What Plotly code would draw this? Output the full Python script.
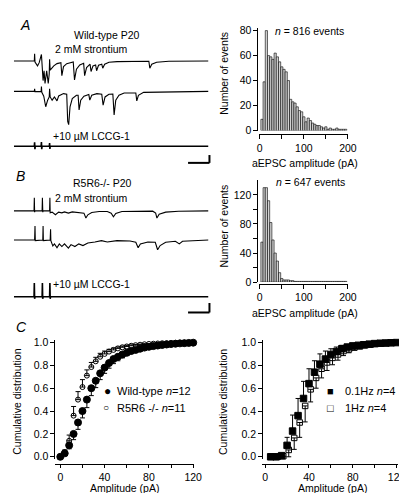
import plotly.graph_objects as go

W, H = 407, 493
FONT = "Liberation Sans, Arial, Helvetica, sans-serif"
FS = 10.5

# ---------------- data ----------------
# Panel A/B traces (time units along the sweep, current deflection units; negative = inward)
A1_t = [0, 21, 21.3, 21.7, 24.3, 26, 28.3, 28.7, 30, 31, 32, 33.7, 35.3, 36.3, 36.7, 37.3, 41, 44.3, 48.3, 49.3,
        51, 54.3, 61, 62.3, 64.3, 67.7, 71.7, 72.7, 74.7, 78.3, 79.3, 81.3, 84, 85, 87, 90.3, 91.3, 93.3, 97.7, 106,
        138.7, 139.7, 141.7, 146.7, 159.3, 200]
A1_i = [0, 0, 7.3, -1, -5, -1.7, 6.7, -3.3, -20, -10, -23, -10, -23, -13.3, 1.7, -9.3, -5, -2.7, -1.7, -15,
        -5.7, -2.7, -1, -19.3, -8.3, -4, -2.3, -15, -6.7, -3.3, -10.7, -5, -4, -10, -4.3, -3.3, -7.3, -3.3, -1.3, -0.7,
        -0.3, -7.3, -3.3, -1.3, -0.3, 0]
A2_t = [0, 21, 21.3, 21.7, 28, 28.3, 28.7, 30.7, 32.7, 34.7, 36.3, 36.7, 37.3, 39.3, 41.7, 44.3, 46, 51, 54.3, 55.3,
        56.3, 57.7, 60, 64.3, 66, 67, 68.7, 72, 77, 78, 80, 85.3, 90.3, 91.7, 93.7, 97.7, 101.7, 103, 104.7, 108,
        113.3, 125.3, 126.3, 128, 133.3, 200]
A2_i = [0, 0, 2.7, -0.3, 0, 5, -1, -5, -15.7, -9, -5.7, 2.7, -5.7, -9, -5.7, -9.7, -4.7, -2.3, -3, -30.7,
        -34, -15.7, -7.3, -4, -4, -19, -9, -5, -3.3, -9, -4, -2.3, -3, -14, -5.7, -3, -2.7, -24, -9, -4,
        -1.7, -1.7, -9.7, -4, -1, 0]
A3_t = [0, 21, 21.3, 21.6, 22, 28, 28.3, 28.6, 29, 36.4, 36.7, 37, 37.3, 200]
A3_i = [0, 0, 4, -3, 0, 0, 4.3, -3, 0, 0, 3.3, -2.7, 0, 0]

B1_t = [0, 20.7, 21, 21.3, 21.7, 29, 29.3, 29.7, 30, 36.7, 37, 37.3, 39.3, 42.7, 46, 49.3, 52, 56, 60, 67.7,
        72, 74, 76, 80, 87.7, 96, 100, 102.3, 104.7, 111, 142.7, 145.7, 147, 149.3, 156, 169.3, 200]
B1_i = [0, 0, 13.3, -1.3, 0, 0, 13.3, -1.3, 0, 0, 13.3, -2, -1.3, -4, -1.3, -2, -1, -2.3, -1, -2,
        -2.3, -7.3, -4, -1.7, -0.7, -0.7, -2.3, -6, -2.7, -0.7, -0.3, -2.3, -7.3, -3.3, -1.3, -0.3, 0]
B2_t = [0, 21.3, 21.7, 22, 29.7, 30, 30.3, 37.3, 37.7, 38, 40, 41.7, 44.3, 46.7, 49.3, 52, 56, 58.7, 62.7, 66.7,
        71, 76, 83.3, 90, 96, 106, 119.3, 125.3, 127.7, 130, 137.7, 145.3, 147.7, 150.3, 156, 166, 170, 173.3, 200]
B2_i = [0, 0, 14.3, -0.7, 0, 14.3, -0.7, 0, 11, -0.7, -6, -4, -8, -4, -6.7, -4, -8.3, -4.7, -6.7, -4,
        -5.7, -3, -2, -0.7, -2, -0.7, -1, -2.3, -8, -4, -2, -2.3, -10, -5.7, -2.3, -1.3, -4, -1.3, 0]
B3_t = [0, 20.7, 21, 21.3, 21.7, 29, 29.3, 29.6, 30, 36.7, 37, 37.3, 37.7, 200]
B3_i = [0, 0, 14, -2, 0, 0, 14, -2, 0, 0, 14, -2, 0, 0]

# Histograms (bin centres in pA, 5 pA bins)
bin_centers = [5, 10, 15, 20, 25, 30, 35, 40, 45, 50, 55, 60, 65, 70, 75, 80, 85, 90, 95, 100,
               105, 110, 115, 120, 125, 130, 135, 140, 145, 150, 155, 160, 165, 170, 175, 180, 185, 190, 195]
histA_counts = [9, 39, 80, 60, 59, 57, 62, 59, 55, 51, 49, 47, 40, 25, 23, 22, 19, 16, 15, 11,
                7, 10, 8, 6, 5, 4, 4, 3, 2, 3, 1, 2, 1, 1, 2, 1, 1, 1, 1]
histB_counts = [55, 130, 130, 112, 82, 58, 40, 29, 13, 5, 3, 3, 3, 2, 2, 1, 1, 1, 1, 1,
                1, 1, 1, 1, 1, 1, 1, 1, 1, 1, 1, 1, 1, 1, 1, 1, 1, 1, 1]

# Panel C left: cumulative distributions
wt_x = [0, 4, 8, 12, 16, 20, 24, 28, 32, 36, 40, 44, 48, 52, 56, 60, 64, 68, 72, 76, 80, 84, 88, 92, 96, 100,
        104, 108, 112, 116, 120]
wt_y = [0.0, 0.03, 0.10, 0.20, 0.30, 0.40, 0.50, 0.60, 0.665, 0.73, 0.78, 0.82, 0.855, 0.875, 0.895, 0.91,
        0.925, 0.935, 0.945, 0.955, 0.962, 0.968, 0.973, 0.978, 0.982, 0.986, 0.989, 0.992, 0.994, 0.996, 0.998]
wt_err = [0.0, 0.02, 0.03, 0.05, 0.06, 0.06, 0.07, 0.065, 0.06, 0.055, 0.05, 0.045, 0.04, 0.035, 0.03, 0.025,
          0.02, 0.02, 0.015, 0.015, 0.012, 0.01, 0.01, 0.008, 0.008, 0.006, 0.005, 0.005, 0.004, 0.003, 0.002]
ko_x = [0, 4, 8, 12, 16, 20, 24, 28, 32, 36, 40, 44, 48, 52, 56, 60, 64, 68, 72, 76, 80, 84, 88, 92, 96, 100,
        104, 108, 112]
ko_y = [0.0, 0.04, 0.14, 0.36, 0.50, 0.61, 0.71, 0.785, 0.835, 0.875, 0.90, 0.92, 0.935, 0.948, 0.958, 0.965,
        0.971, 0.976, 0.98, 0.984, 0.987, 0.989, 0.991, 0.993, 0.994, 0.995, 0.996, 0.997, 0.998]
ko_err = [0.0, 0.02, 0.05, 0.08, 0.07, 0.065, 0.05, 0.04, 0.035, 0.03, 0.025, 0.02, 0.015, 0.012, 0.01, 0.01,
          0.008, 0.007, 0.006, 0.005, 0.004, 0.004, 0.003, 0.003, 0.002, 0.002, 0.002, 0.001, 0.001]

# Panel C right: stimulation frequency
f01_x = [5, 10, 15, 20, 25, 30, 35, 40, 45, 50, 55, 60, 65, 70, 75, 80, 85, 90, 95, 100, 105, 110, 115, 120]
f01_y = [0.0, 0.0, 0.01, 0.10, 0.225, 0.36, 0.51, 0.64, 0.74, 0.81, 0.855, 0.895, 0.92, 0.945, 0.96, 0.97,
         0.975, 0.98, 0.985, 0.99, 0.993, 0.995, 0.997, 0.999]
f01_err = [0.0, 0.0, 0.005, 0.07, 0.14, 0.15, 0.15, 0.13, 0.10, 0.09, 0.07, 0.05, 0.04, 0.03, 0.02, 0.015,
           0.01, 0.008, 0.006, 0.005, 0.004, 0.003, 0.002, 0.001]
f1_x = [6.5, 11.5, 16.5, 21.5, 26.5, 31.5, 36.5, 41.5, 46.5, 51.5, 56.5, 61.5, 66.5, 71.5, 76.5, 81.5, 86.5,
        91.5, 96.5, 101.5, 106.5, 111.5, 116.5, 121.5]
f1_y = [0.0, 0.0, 0.005, 0.06, 0.165, 0.30, 0.445, 0.59, 0.69, 0.77, 0.825, 0.865, 0.895, 0.925, 0.94, 0.955,
        0.965, 0.975, 0.982, 0.988, 0.992, 0.995, 0.997, 0.999]
f1_err = [0.0, 0.0, 0.005, 0.06, 0.10, 0.13, 0.14, 0.11, 0.09, 0.08, 0.07, 0.06, 0.05, 0.04, 0.03, 0.02,
          0.015, 0.01, 0.008, 0.006, 0.005, 0.004, 0.003, 0.002]


# ---------------- helpers ----------------
def dom_x(p0, p1):
    return [p0 / W, p1 / W]


def dom_y(p_top, p_bot):
    return [1 - p_bot / H, 1 - p_top / H]


def ann(text, x, y, size=FS, xanchor="left", angle=0):
    return dict(text=text, x=x / W, y=1 - y / H, xref="paper", yref="paper", showarrow=False,
                xanchor=xanchor, yanchor="middle", textangle=angle, borderpad=0,
                font=dict(size=size, family=FONT, color="black"))


def line_shape(x0, y0, x1, y1, w=2):
    return dict(type="line", xref="paper", yref="paper", x0=x0 / W, y0=1 - y0 / H, x1=x1 / W, y1=1 - y1 / H,
                line=dict(color="black", width=w))


axis_common = dict(showgrid=False, zeroline=False, showline=True, linecolor="black", linewidth=1,
                   ticks="outside", ticklen=4, tickwidth=1, tickcolor="black",
                   tickfont=dict(size=FS, family=FONT, color="black"))

fig = go.Figure()

# ---------------- traces (A and B) ----------------
trace_sets = [(A1_t, A1_i, 50, 1.1), (A2_t, A2_i, 81, 1.1), (A3_t, A3_i, 137, 1.6),
              (B1_t, B1_i, 203, 1.1), (B2_t, B2_i, 232.7, 1.1), (B3_t, B3_i, 290.7, 1.6)]
for k, (tt, ii, base, lw) in enumerate(trace_sets):
    yname = "y%d" % (5 + k)
    fig.add_trace(go.Scatter(x=tt, y=ii, mode="lines", line=dict(color="black", width=lw),
                             xaxis="x5", yaxis=yname, hoverinfo="skip"))
    fig.layout["yaxis%d" % (5 + k)] = dict(domain=dom_y(base - 16, base + 40), range=[-40, 16], visible=False,
                                           anchor="x5", fixedrange=True)
fig.layout["xaxis5"] = dict(domain=dom_x(4, 204), range=[0, 200], visible=False, anchor="y5")

# ---------------- histograms ----------------
bar_style = dict(color="#d2d2d2", line=dict(color="black", width=0.6))
fig.add_trace(go.Bar(x=bin_centers, y=histA_counts, width=5, marker=bar_style, xaxis="x", yaxis="y"))
fig.add_trace(go.Bar(x=bin_centers, y=histB_counts, width=5, marker=bar_style, xaxis="x2", yaxis="y2"))

hx0 = 256.7
hk = (347.3 - 256.7) / 200.0
hist_xaxis = dict(axis_common, range=[-2.5, 200], domain=dom_x(hx0 - 2.5 * hk, hx0 + 200 * hk), anchor="free",
                  tickvals=[0, 50, 100, 150, 200], ticktext=["0", "", "100", "", "200"])
fig.layout.xaxis = dict(hist_xaxis, position=1 - 125 / H)
fig.layout.xaxis2 = dict(hist_xaxis, position=1 - 277.3 / H)
kA = (121 - 19) / 80.0
fig.layout.yaxis = dict(axis_common, range=[0, 82], domain=dom_y(121 - 82 * kA, 121), anchor="free",
                        position=254.3 / W, tickvals=[0, 20, 40, 60, 80])
kB = (275.7 - 186.7) / 120.0
fig.layout.yaxis2 = dict(axis_common, range=[0, 140], domain=dom_y(275.7 - 140 * kB, 275.7), anchor="free",
                         position=254.3 / W, tickvals=[0, 20, 40, 60, 80, 100, 120],
                         ticktext=["0", "", "40", "", "80", "", "120"])

# ---------------- cumulative plots ----------------
def err_plot(x, y, err, up, symbol, size, xa, ya, fill):
    e = dict(type="data", symmetric=False, color="black", thickness=1, width=2.5, visible=True)
    if up:
        e.update(array=err, arrayminus=[0] * len(err))
    else:
        e.update(array=[0] * len(err), arrayminus=err)
    return go.Scatter(x=x, y=y, mode="markers", error_y=e, xaxis=xa, yaxis=ya, cliponaxis=False,
                      marker=dict(symbol=symbol, size=size, color=fill, line=dict(color="black", width=1)))

fig.add_trace(err_plot(ko_x, ko_y, ko_err, True, "circle-open", 5, "x3", "y3", "black"))
fig.add_trace(err_plot(wt_x, wt_y, wt_err, False, "circle", 7, "x3", "y3", "black"))
fig.add_trace(err_plot(f1_x, f1_y, f1_err, False, "square-open", 5.5, "x4", "y4", "black"))
fig.add_trace(err_plot(f01_x, f01_y, f01_err, True, "square", 6.5, "x4", "y4", "black"))

ky = 454 - 337.3
c_y = dict(axis_common, range=[-0.015, 1.02], domain=dom_y(454 - 1.02 * ky, 454 + 0.015 * ky), anchor="free",
           tickvals=[0, 0.2, 0.4, 0.6, 0.8, 1.0], ticktext=["0.0", "0.2", "0.4", "0.6", "0.8", "1.0"])
c_x = dict(axis_common, anchor="free", position=1 - 461.7 / H, ticklen=3,
           tickvals=[0, 20, 40, 60, 80, 100, 120], ticktext=["0", "", "40", "", "80", "", "120"])
kl = (188.3 - 51.7) / 120.0
fig.layout.xaxis3 = dict(c_x, range=[-4.5, 121], domain=dom_x(51.7 - 4.5 * kl, 51.7 + 121 * kl))
fig.layout.yaxis3 = dict(c_y, position=45.7 / W)
xr0, xr120 = 262.3, 397.3
kr = (xr120 - xr0) / 120.0
fig.layout.xaxis4 = dict(c_x, range=[-3, 121], domain=dom_x(xr0 - 3 * kr, xr0 + 121 * kr))
fig.layout.yaxis4 = dict(c_y, position=259.2 / W)

# ---------------- text ----------------
anns = [
    ann("<i>A</i>", 9, 13, size=14),
    ann("<i>B</i>", 5, 167, size=14),
    ann("<i>C</i>", 5, 322, size=14),
    ann("Wild-type P20", 100, 23, xanchor="center"),
    ann("2 mM strontium", 45, 38),
    ann("+10 µM LCCG-1", 43, 127),
    ann("R5R6-/- P20", 95, 175, xanchor="center"),
    ann("2 mM strontium", 45, 190),
    ann("+10 µM LCCG-1", 43, 278),
    ann("<i>n</i> = 816 events", 271, 19),
    ann("<i>n</i> = 647 events", 272, 174),
    ann("Number of events", 220, 63, xanchor="center", angle=-90),
    ann("Number of events", 220, 219, xanchor="center", angle=-90),
    ann("aEPSC amplitude (pA)", 303.5, 154, xanchor="center"),
    ann("aEPSC amplitude (pA)", 303.5, 307.5, xanchor="center"),
    ann("Cumulative distribution", 7, 398, xanchor="center", angle=-90),
    ann("Cumulative distribution", 219, 398, xanchor="center", angle=-90),
    ann("Amplitude (pA)", 118, 486, xanchor="center"),
    ann("Amplitude (pA)", 331, 486, xanchor="center"),
    ann("●", 100, 387, size=12, xanchor="center"),
    ann("Wild-type <i>n</i>=12", 109, 387, size=11),
    ann("○", 99, 404, size=10, xanchor="center"),
    ann("R5R6 -/- <i>n</i>=11", 109, 404, size=11),
    ann("■", 329, 387, size=11, xanchor="center"),
    ann("0.1Hz <i>n</i>=4", 343, 387, size=11),
    ann("□", 329, 404, size=11, xanchor="center"),
    ann("1Hz <i>n</i>=4", 343, 404, size=11),
]

shapes = [
    line_shape(183, 154, 205, 154), line_shape(205, 154, 205, 146),
    line_shape(183, 306.7, 205, 306.7), line_shape(205, 306.7, 205, 297),
]

fig.update_layout(width=W, height=H, margin=dict(l=0, r=0, t=0, b=0), showlegend=False,
                  paper_bgcolor="white", plot_bgcolor="rgba(0,0,0,0)",
                  font=dict(family=FONT, size=FS, color="black"),
                  annotations=anns, shapes=shapes, barmode="overlay")

fig.write_html("out.html")
